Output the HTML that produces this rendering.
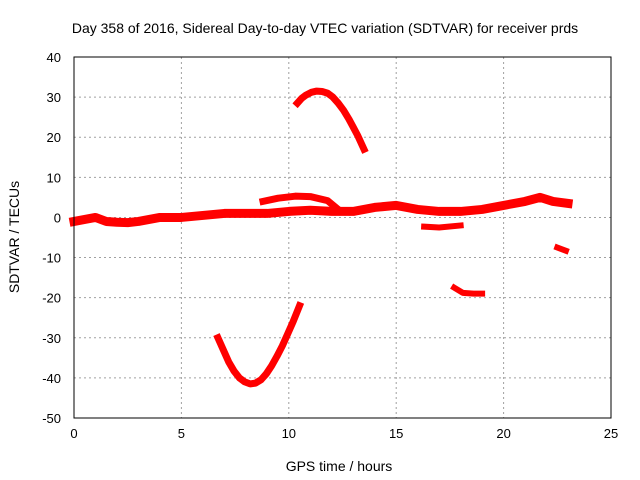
<!DOCTYPE html>
<html><head><meta charset="utf-8"><style>
body{margin:0;background:#fff;}
svg{display:block;font-family:"Liberation Sans",sans-serif;}
</style></head><body>
<svg id="chart" width="640" height="480">
<text x="325" y="33" font-size="14" text-anchor="middle">Day 358 of 2016, Sidereal Day-to-day VTEC variation (SDTVAR) for receiver prds</text>
<text x="339" y="471" font-size="14" text-anchor="middle">GPS time / hours</text>
<text transform="translate(19,237) rotate(-90)" font-size="14" text-anchor="middle">SDTVAR / TECUs</text>
<g id="grid"></g><g id="ticks"></g><g id="series"></g>
<rect x="74" y="57" width="537" height="361" fill="none" stroke="#000" stroke-width="1"/>
</svg>
<script>
const xTicks=[0,5,10,15,20,25];
const yTicks=[40,30,20,10,0,-10,-20,-30,-40,-50];
const mainBandX=[0,0.5,1,1.5,2,2.5,3,4,5,6,7,8,9,10,11,12,13,14,15,16,17,18,19,20,21,21.7,22.3,23];
const mainBandY=[-1,-0.5,0,-1,-1.2,-1.3,-1,0,0,0.5,1,1,1,1.5,1.8,1.5,1.5,2.5,3,2,1.5,1.5,2,3,4,5,4,3.5];
const upperArcX=[8.8,9.5,10.3,11,11.8,12.3];
const upperArcY=[4,4.8,5.3,5.2,4.2,2];
const topArcX=[10.4,10.6,10.8,11.05,11.3,11.55,11.8,12.05,12.3,12.55,12.8,13.0,13.2,13.5];
const topArcY=[28.5,29.7,30.5,31.2,31.5,31.4,31,30,28.5,26.7,24.5,22.5,20.5,17];
const bottomArcX=[6.7,6.95,7.2,7.45,7.7,7.95,8.2,8.45,8.7,8.95,9.2,9.45,9.7,9.95,10.2,10.5];
const bottomArcY=[-30,-33,-36,-38.3,-40,-41,-41.5,-41.3,-40.5,-39,-37,-34.6,-32,-29,-26,-22];
const seg5X=[16.3,17,18];
const seg5Y=[-2.3,-2.5,-2.0];
const seg6X=[17.7,18.1,18.6,19];
const seg6Y=[-17.5,-18.8,-19,-19];
const seg7X=[22.5,22.9];
const seg7Y=[-7.5,-8.3];
const L=74,R=611,T=57,B=418,xMin=0,xMax=25,yMin=-50,yMax=40;
const sx=v=>L+(v-xMin)/(xMax-xMin)*(R-L);
const sy=v=>B-(v-yMin)/(yMax-yMin)*(B-T);
const NS="http://www.w3.org/2000/svg";
const grid=document.getElementById('grid'),ticks=document.getElementById('ticks'),ser=document.getElementById('series');
function mk(tag,attrs,parent){const e=document.createElementNS(NS,tag);for(const k in attrs)e.setAttribute(k,attrs[k]);parent.appendChild(e);return e;}
xTicks.forEach(t=>{
  const x=sx(t);
  if(t>xMin&&t<xMax){const g=mk('line',{x1:x,x2:x,y1:T,y2:B,stroke:'#a0a0a0','stroke-dasharray':'2,3'},grid);
  
  }
  const tx=mk('text',{x:x,y:B+20,'font-size':13,'text-anchor':'middle'},ticks);
  tx.textContent=t;
  
  
});
yTicks.forEach(t=>{
  const y=sy(t);
  if(t>yMin&&t<yMax){const g=mk('line',{x1:L,x2:R,y1:y,y2:y,stroke:'#a0a0a0','stroke-dasharray':'2,3'},grid);
  
  }
  const tx=mk('text',{x:L-13,y:y+5,'font-size':13,'text-anchor':'end'},ticks);
  tx.textContent=t;
  
  
});
const segs=[[mainBandX,mainBandY,9,'main-band'],[upperArcX,upperArcY,7,'upper-arc'],[topArcX,topArcY,7,'top-arc'],[bottomArcX,bottomArcY,7,'bottom-arc'],[seg5X,seg5Y,6,'segment-16h'],[seg6X,seg6Y,6,'segment-18h'],[seg7X,seg7Y,6,'segment-22h']];
segs.forEach(([xs,ys,w,n])=>{
  const pts=xs.map((x,i)=>sx(x)+','+sy(ys[i])).join(' ');
  const p=mk('polyline',{points:pts,fill:'none',stroke:'#ff0000','stroke-width':w,'stroke-linejoin':'round','stroke-linecap':'square'},ser);
  
  
});
</script>
</body></html>
